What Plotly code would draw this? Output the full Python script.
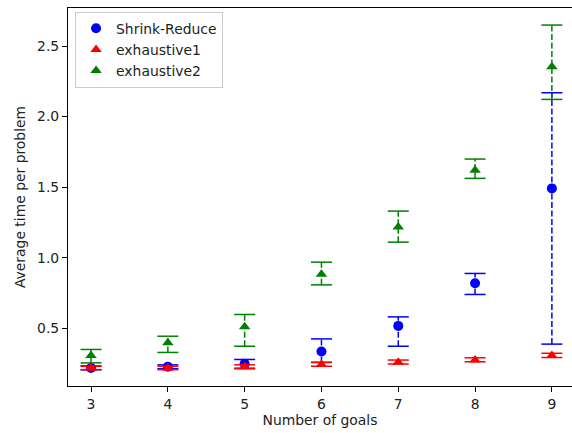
import plotly.graph_objects as go

goals = [3, 4, 5, 6, 7, 8, 9]

sr_mean = [0.218, 0.226, 0.247, 0.335, 0.516, 0.819, 1.491]
sr_hi = [0.232, 0.240, 0.278, 0.424, 0.580, 0.888, 2.169]
sr_lo = [0.205, 0.212, 0.216, 0.257, 0.372, 0.739, 0.387]

ex1_mean = [0.218, 0.218, 0.226, 0.243, 0.259, 0.275, 0.306]
ex1_hi = [0.230, 0.230, 0.240, 0.258, 0.274, 0.290, 0.322]
ex1_lo = [0.206, 0.206, 0.212, 0.230, 0.246, 0.262, 0.292]

ex2_mean = [0.306, 0.396, 0.510, 0.883, 1.218, 1.620, 2.353]
ex2_hi = [0.349, 0.443, 0.597, 0.968, 1.330, 1.699, 2.649]
ex2_lo = [0.254, 0.328, 0.372, 0.807, 1.110, 1.562, 2.122]

series = [
    ("Shrink-Reduce", "#0000ff", "circle", sr_mean, sr_lo, sr_hi),
    ("exhaustive1", "#ff0000", "triangle-up", ex1_mean, ex1_lo, ex1_hi),
    ("exhaustive2", "#008000", "triangle-up", ex2_mean, ex2_lo, ex2_hi),
]

FONT = "DejaVu Sans"
FS = 13.9
fig = go.Figure()

for name, color, symbol, mean, lo, hi in series:
    xs, ys = [], []
    for x, l, h in zip(goals, lo, hi):
        xs += [x, x, None]
        ys += [l, h, None]
    fig.add_trace(go.Scatter(x=xs, y=ys, mode="lines", showlegend=False,
                             line=dict(color=color, width=1.5, dash="6px,2.5px"),
                             hoverinfo="skip"))
    fig.add_trace(go.Scatter(x=goals + goals, y=lo + hi, mode="markers", showlegend=False,
                             marker=dict(symbol="line-ew", size=15,
                                         line=dict(color=color, width=1.5)),
                             hoverinfo="skip"))
    fig.add_trace(go.Scatter(x=goals, y=mean, mode="markers", name=name,
                             marker=dict(symbol=symbol, size=10, color=color,
                                         line=dict(width=0))))

fig.update_layout(
    width=572, height=433,
    margin=dict(l=68, r=0, t=8, b=47),
    paper_bgcolor="white", plot_bgcolor="white",
    font=dict(family=FONT, size=FS, color="black"),
    showlegend=True,
    legend=dict(x=0.014, y=0.99, xanchor="left", yanchor="top",
                bgcolor="rgba(255,255,255,0.8)", bordercolor="#cccccc", borderwidth=1,
                font=dict(size=FS, family=FONT, color="#222222"), tracegroupgap=0),
    xaxis=dict(range=[2.7, 9.262], tickvals=goals, ticktext=[str(g) for g in goals],
               showgrid=False, zeroline=False, showline=True, linecolor="black",
               linewidth=1.1, mirror=True, ticks="outside", ticklen=5, tickcolor="black",
               tickfont=dict(size=FS, family=FONT, color="#222222"),
               title=dict(text="Number of goals", standoff=4,
                          font=dict(size=FS, family=FONT, color="#222222"))),
    yaxis=dict(range=[0.09, 2.77], tickvals=[0.5, 1.0, 1.5, 2.0, 2.5],
               ticktext=["0.5", "1.0", "1.5", "2.0", "2.5"],
               showgrid=False, zeroline=False, showline=True, linecolor="black",
               linewidth=1.1, ticks="outside", ticklen=5, tickcolor="black",
               tickfont=dict(size=FS, family=FONT, color="#222222"),
               title=dict(text="Average time per problem", standoff=8,
                          font=dict(size=FS, family=FONT, color="#222222"))),
)

fig.write_html("out.html")
